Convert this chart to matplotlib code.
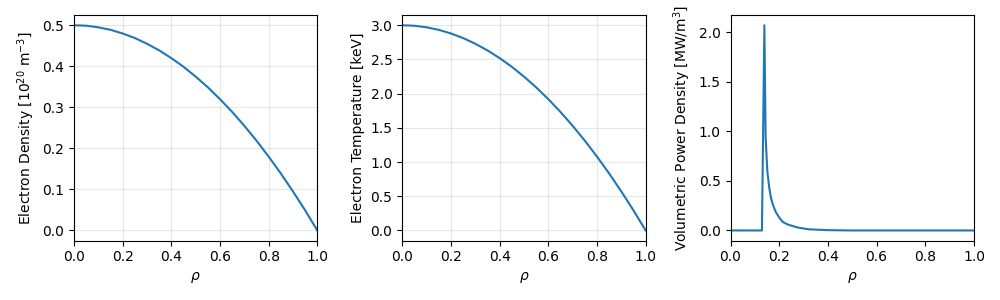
import matplotlib
matplotlib.use('Agg')
import matplotlib.pyplot as plt

# profiles
rho = [0.0, 0.05, 0.1, 0.15, 0.2, 0.25, 0.3, 0.35, 0.4, 0.45, 0.5,
       0.55, 0.6, 0.65, 0.7, 0.75, 0.8, 0.85, 0.9, 0.95, 1.0]
ne = [0.5, 0.499, 0.495, 0.489, 0.48, 0.469, 0.455, 0.439, 0.42, 0.399, 0.375,
      0.349, 0.32, 0.289, 0.255, 0.219, 0.18, 0.139, 0.095, 0.049, 0.0]
te = [3.0, 2.993, 2.97, 2.933, 2.88, 2.813, 2.73, 2.633, 2.52, 2.393, 2.25,
      2.093, 1.92, 1.733, 1.53, 1.313, 1.08, 0.833, 0.57, 0.293, 0.0]

rho_p = [0.0, 0.129, 0.139, 0.144, 0.151, 0.159, 0.166, 0.174, 0.185, 0.2,
         0.215, 0.235, 0.275, 0.32, 0.4, 0.5, 1.0]
power = [0.0, 0.0, 2.07, 0.95, 0.6, 0.43, 0.33, 0.26, 0.19, 0.13,
         0.085, 0.06, 0.03, 0.012, 0.003, 0.0, 0.0]

fig, axes = plt.subplots(1, 3, figsize=(10, 3), dpi=100)

ax1, ax2, ax3 = axes

ax1.plot(rho, ne)
ax1.set_ylabel('Electron Density [$10^{20}$ m$^{-3}$]')
ax1.grid(alpha=0.3)

ax2.plot(rho, te)
ax2.set_ylabel('Electron Temperature [keV]')
ax2.grid(alpha=0.3)

ax3.plot(rho_p, power)
ax3.set_ylabel('Volumetric Power Density [MW/m$^3$]')

for ax in axes:
    ax.set_xlim(0, 1)
    ax.set_xlabel(r'$\rho$')

plt.tight_layout()
plt.savefig('out.png')
